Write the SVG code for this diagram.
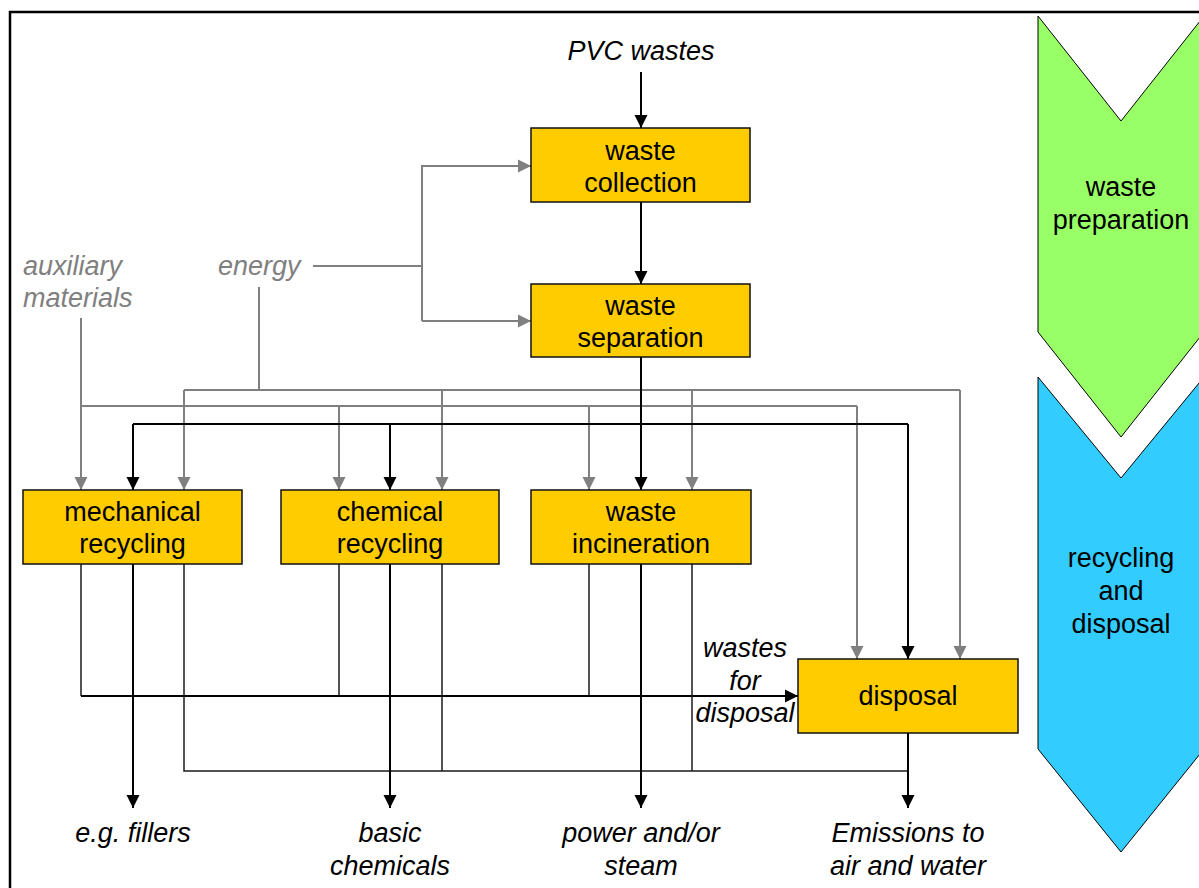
<svg xmlns="http://www.w3.org/2000/svg" width="1199" height="888" viewBox="0 0 1199 888">
<style>
.box{fill:#ffcc00;stroke:#111;stroke-width:1.5}
.t{font-family:"Liberation Sans",Arial,sans-serif;font-size:27px;fill:#000;text-anchor:middle}
.i{font-family:"Liberation Sans",Arial,sans-serif;font-size:27px;font-style:italic;fill:#000;text-anchor:middle}
.g{font-family:"Liberation Sans",Arial,sans-serif;font-size:27px;font-style:italic;fill:#808080}
.k{fill:none;stroke:#000;stroke-width:2}
.k2{fill:none;stroke:#1a1a1a;stroke-width:1.5}
.gr{fill:none;stroke:#808080;stroke-width:2}
.ka{marker-end:url(#ab)}
.ga{marker-end:url(#ag)}
</style>
<defs>
<marker id="ab" markerUnits="userSpaceOnUse" markerWidth="14" markerHeight="14" viewBox="0 0 14 14" refX="13" refY="7" orient="auto"><path d="M0,0.5 L13,7 L0,13.5 Z" fill="#000"/></marker>
<marker id="ag" markerUnits="userSpaceOnUse" markerWidth="14" markerHeight="14" viewBox="0 0 14 14" refX="13" refY="7" orient="auto"><path d="M0,0.5 L13,7 L0,13.5 Z" fill="#808080"/></marker>
</defs>
<rect width="1199" height="888" fill="#fff"/>
<path d="M10,900 L10,12 L1210,12" fill="none" stroke="#000" stroke-width="2.5"/>
<g id="phase-prep">
<path d="M1038,16 L1121,121 L1204,16 L1204,332 L1121,437 L1038,332 Z" fill="#99ff66" stroke="#000" stroke-width="1"/>
<text class="t" x="1121" y="196">waste</text>
<text class="t" x="1121" y="229">preparation</text>
</g>
<g id="phase-recycling">
<path d="M1038,377 L1121,478 L1204,377 L1204,749 L1121,852 L1038,749 Z" fill="#33ccff" stroke="#000" stroke-width="1"/>
<text class="t" x="1121" y="567">recycling</text>
<text class="t" x="1121" y="600">and</text>
<text class="t" x="1121" y="633">disposal</text>
</g>
<g id="connectors">
<path class="k ka" d="M641,72 L641,128"/>
<path class="k ka" d="M641,202 L641,284"/>
<path class="gr" d="M313,266 L422,266"/>
<path class="gr ga" d="M422,321 L422,166 L531,166"/>
<path class="gr ga" d="M422,321 L531,321"/>
<path class="gr" d="M259,287 L259,390"/>
<path class="gr ga" d="M184,390 L184,490"/>
<path class="gr" d="M184,390 L960,390"/>
<path class="gr ga" d="M442,390 L442,490"/>
<path class="gr ga" d="M692,390 L692,490"/>
<path class="gr ga" d="M960,390 L960,659"/>
<path class="gr ga" d="M81,318 L81,490"/>
<path class="gr" d="M81,406 L857,406"/>
<path class="gr ga" d="M339,406 L339,490"/>
<path class="gr ga" d="M589,406 L589,490"/>
<path class="gr ga" d="M857,406 L857,659"/>
<path class="k ka" d="M641,357 L641,490"/>
<path class="k" d="M133,424 L908,424"/>
<path class="k ka" d="M133,424 L133,490"/>
<path class="k ka" d="M390,424 L390,490"/>
<path class="k ka" d="M908,424 L908,659"/>
<path class="k2" d="M81,564 L81,696"/>
<path class="k2" d="M339,564 L339,696"/>
<path class="k2" d="M589,564 L589,696"/>
<path class="k ka" d="M81,696 L798,696"/>
<path class="k2" d="M184,564 L184,771 L908,771"/>
<path class="k2" d="M442,564 L442,771"/>
<path class="k2" d="M692,564 L692,771"/>
<path class="k ka" d="M133,564 L133,808"/>
<path class="k ka" d="M390,564 L390,808"/>
<path class="k ka" d="M641,564 L641,808"/>
<path class="k ka" d="M908,733 L908,808"/>
</g>
<g id="label-pvc"><text class="i" x="641" y="60">PVC wastes</text></g>
<g id="label-aux"><text class="g" x="23" y="275">auxiliary</text><text class="g" x="23" y="307">materials</text></g>
<g id="label-energy"><text class="g" x="218" y="275">energy</text></g>
<g id="waste-collection">
<rect class="box" x="531" y="128" width="219" height="74"/>
<text class="t" x="640.5" y="160">waste</text>
<text class="t" x="640.5" y="192">collection</text>
</g>
<g id="waste-separation">
<rect class="box" x="531" y="284" width="219" height="73"/>
<text class="t" x="640.5" y="315">waste</text>
<text class="t" x="640.5" y="347">separation</text>
</g>
<g id="mechanical-recycling">
<rect class="box" x="23" y="490" width="219" height="74"/>
<text class="t" x="132.5" y="521">mechanical</text>
<text class="t" x="132.5" y="553">recycling</text>
</g>
<g id="chemical-recycling">
<rect class="box" x="281" y="490" width="218" height="74"/>
<text class="t" x="390" y="521">chemical</text>
<text class="t" x="390" y="553">recycling</text>
</g>
<g id="waste-incineration">
<rect class="box" x="531" y="490" width="220" height="74"/>
<text class="t" x="641" y="521">waste</text>
<text class="t" x="641" y="553">incineration</text>
</g>
<g id="disposal">
<rect class="box" x="798" y="659" width="220" height="74"/>
<text class="t" x="908" y="705">disposal</text>
</g>
<g id="label-wastes-for-disposal">
<text class="i" x="745" y="657">wastes</text>
<text class="i" x="745" y="690">for</text>
<text class="i" x="745" y="722">disposal</text>
</g>
<g id="outputs">
<text class="i" x="133" y="842">e.g. fillers</text>
<text class="i" x="390" y="842">basic</text>
<text class="i" x="390" y="875">chemicals</text>
<text class="i" x="641" y="842">power and/or</text>
<text class="i" x="641" y="875">steam</text>
<text class="i" x="908" y="842">Emissions to</text>
<text class="i" x="908" y="875">air and water</text>
</g>
</svg>
